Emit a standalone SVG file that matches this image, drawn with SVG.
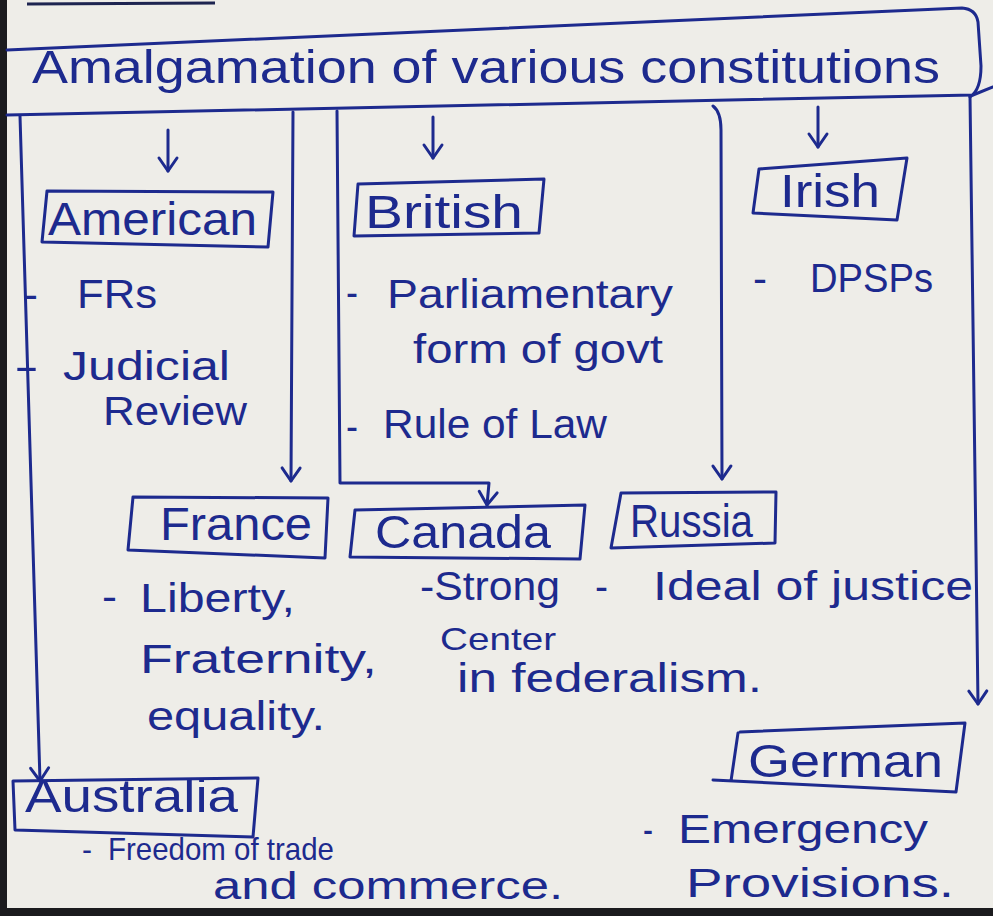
<svg xmlns="http://www.w3.org/2000/svg" width="993" height="916" viewBox="0 0 993 916">
  <style>
    .ink { fill: none; stroke: #1d2a8e; stroke-width: 3; stroke-linecap: round; stroke-linejoin: round; }
    .t { font-family: "Liberation Sans", Arial, sans-serif; fill: #1d2a8e; }
    .lbl { font-size: 46px; }
    .itm { font-size: 40px; }
    .sm { font-size: 32px; }
    .ttl { font-size: 46px; }
  </style>
  <defs>
    <marker id="arr" markerUnits="userSpaceOnUse" markerWidth="30" markerHeight="30" viewBox="-15 -15 30 30" refX="0" refY="0" orient="auto" overflow="visible">
      <path d="M-13,-9 L0,0 L-13,9" fill="none" stroke="#1d2a8e" stroke-width="3" stroke-linecap="round" stroke-linejoin="round"/>
    </marker>
  </defs>

  <!-- paper -->
  <rect x="0" y="0" width="993" height="916" fill="#eeede8"/>
  <rect x="0" y="0" width="7" height="916" fill="#1b1b1e"/>
  <rect x="0" y="908" width="993" height="8" fill="#1b1b1e"/>
  <path d="M27,4 L215,3" fill="none" stroke="#1d2450" stroke-width="3"/>

  <!-- title -->
  <g id="title">
    <path class="ink" d="M7,50 L962,8 Q976,9 978,22 L981,66 Q981,90 970,97"/>
    <path class="ink" d="M7,115 L973,95 L993,87"/>
    <text class="t ttl" x="32" y="83" textLength="908" lengthAdjust="spacingAndGlyphs">Amalgamation of various constitutions</text>
  </g>

  <!-- connectors -->
  <g id="connectors">
    <path class="ink" d="M20,116 L40,781" marker-end="url(#arr)"/>
    <path class="ink" d="M293,112 L291,481" marker-end="url(#arr)"/>
    <path class="ink" d="M337,111 L340,483 L489,483 L487,505" marker-end="url(#arr)"/>
    <path class="ink" d="M713,106 Q721,112 721,130 L722,479" marker-end="url(#arr)"/>
    <path class="ink" d="M970,96 L978,704" marker-end="url(#arr)"/>
    <path class="ink" d="M168,130 L168,171" marker-end="url(#arr)"/>
    <path class="ink" d="M433,117 L433,158" marker-end="url(#arr)"/>
    <path class="ink" d="M818,107 L818,147" marker-end="url(#arr)"/>
  </g>

  <!-- American -->
  <g id="american">
    <path class="ink" d="M47,191 L273,192 L268,247 L42,242 Z"/>
    <text class="t lbl" x="48" y="235" textLength="209" lengthAdjust="spacingAndGlyphs">American</text>
    <text class="t itm" y="308"><tspan x="23" textLength="15" lengthAdjust="spacingAndGlyphs">-</tspan><tspan x="77" textLength="80" lengthAdjust="spacingAndGlyphs">FRs</tspan></text>
    <text class="t itm" y="380"><tspan x="14" textLength="25" lengthAdjust="spacingAndGlyphs">-</tspan><tspan x="63" textLength="167" lengthAdjust="spacingAndGlyphs">Judicial</tspan></text>
    <text class="t itm" x="103" y="425" textLength="144" lengthAdjust="spacingAndGlyphs">Review</text>
  </g>

  <!-- British -->
  <g id="british">
    <path class="ink" d="M358,184 L544,179 L539,233 L354,236 Z"/>
    <text class="t lbl" x="365" y="228" textLength="158" lengthAdjust="spacingAndGlyphs">British</text>
    <text class="t itm" y="306"><tspan x="346" textLength="12" lengthAdjust="spacingAndGlyphs">-</tspan><tspan x="387" y="308" textLength="286" lengthAdjust="spacingAndGlyphs">Parliamentary</tspan></text>
    <text class="t itm" x="413" y="363" textLength="250" lengthAdjust="spacingAndGlyphs">form of govt</text>
    <text class="t itm" y="440"><tspan x="346" textLength="12" lengthAdjust="spacingAndGlyphs">-</tspan><tspan x="383" y="438" textLength="224" lengthAdjust="spacingAndGlyphs">Rule of Law</tspan></text>
  </g>

  <!-- Irish -->
  <g id="irish">
    <path class="ink" d="M759,169 L907,158 L897,220 L753,213 Z"/>
    <text class="t lbl" x="780" y="207" textLength="100" lengthAdjust="spacingAndGlyphs">Irish</text>
    <text class="t itm" y="292"><tspan x="753" textLength="14" lengthAdjust="spacingAndGlyphs">-</tspan><tspan x="810" textLength="123" lengthAdjust="spacingAndGlyphs">DPSPs</tspan></text>
  </g>

  <!-- France -->
  <g id="france">
    <path class="ink" d="M133,497 L328,498 L325,558 L128,550 Z"/>
    <text class="t lbl" x="160" y="540" textLength="152" lengthAdjust="spacingAndGlyphs">France</text>
    <text class="t itm" y="610"><tspan x="102" textLength="15" lengthAdjust="spacingAndGlyphs">-</tspan><tspan x="140" y="612" textLength="155" lengthAdjust="spacingAndGlyphs">Liberty,</tspan></text>
    <text class="t itm" x="140" y="673" textLength="237" lengthAdjust="spacingAndGlyphs">Fraternity,</text>
    <text class="t itm" x="147" y="730" textLength="178" lengthAdjust="spacingAndGlyphs">equality.</text>
  </g>

  <!-- Canada -->
  <g id="canada">
    <path class="ink" d="M355,510 L585,505 L580,559 L350,557 Z"/>
    <text class="t lbl" x="375" y="548" textLength="176" lengthAdjust="spacingAndGlyphs">Canada</text>
    <text class="t itm" x="420" y="600" textLength="140" lengthAdjust="spacingAndGlyphs">-Strong</text>
    <text class="t sm" x="440" y="650" textLength="116" lengthAdjust="spacingAndGlyphs">Center</text>
    <text class="t itm" x="457" y="692" textLength="305" lengthAdjust="spacingAndGlyphs">in federalism.</text>
  </g>

  <!-- Russia -->
  <g id="russia">
    <path class="ink" d="M621,493 L776,492 L775,543 L611,548 Z"/>
    <text class="t lbl" x="630" y="537" textLength="123" lengthAdjust="spacingAndGlyphs">Russia</text>
    <text class="t itm" y="600"><tspan x="595" textLength="13" lengthAdjust="spacingAndGlyphs">-</tspan><tspan x="653" textLength="320" lengthAdjust="spacingAndGlyphs">Ideal of justice</tspan></text>
  </g>

  <!-- German -->
  <g id="german">
    <path class="ink" d="M740,732 L965,723 L956,792 L713,780 M738,733 L731,781"/>
    <text class="t lbl" x="748" y="777" textLength="195" lengthAdjust="spacingAndGlyphs">German</text>
    <text class="t itm" y="843"><tspan x="643" textLength="10" lengthAdjust="spacingAndGlyphs">-</tspan><tspan x="678" textLength="250" lengthAdjust="spacingAndGlyphs">Emergency</tspan></text>
    <text class="t itm" x="686" y="897" textLength="268" lengthAdjust="spacingAndGlyphs">Provisions.</text>
  </g>

  <!-- Australia -->
  <g id="australia">
    <path class="ink" d="M13,781 L258,778 L253,837 L15,830 Z"/>
    <text class="t lbl" x="25" y="812" textLength="213" lengthAdjust="spacingAndGlyphs">Australia</text>
    <text class="t sm" y="860"><tspan x="82" textLength="10" lengthAdjust="spacingAndGlyphs">-</tspan><tspan x="108" textLength="226" lengthAdjust="spacingAndGlyphs">Freedom of trade</tspan></text>
    <text class="t" font-size="38" x="213" y="899" textLength="350" lengthAdjust="spacingAndGlyphs">and commerce.</text>
  </g>
</svg>
